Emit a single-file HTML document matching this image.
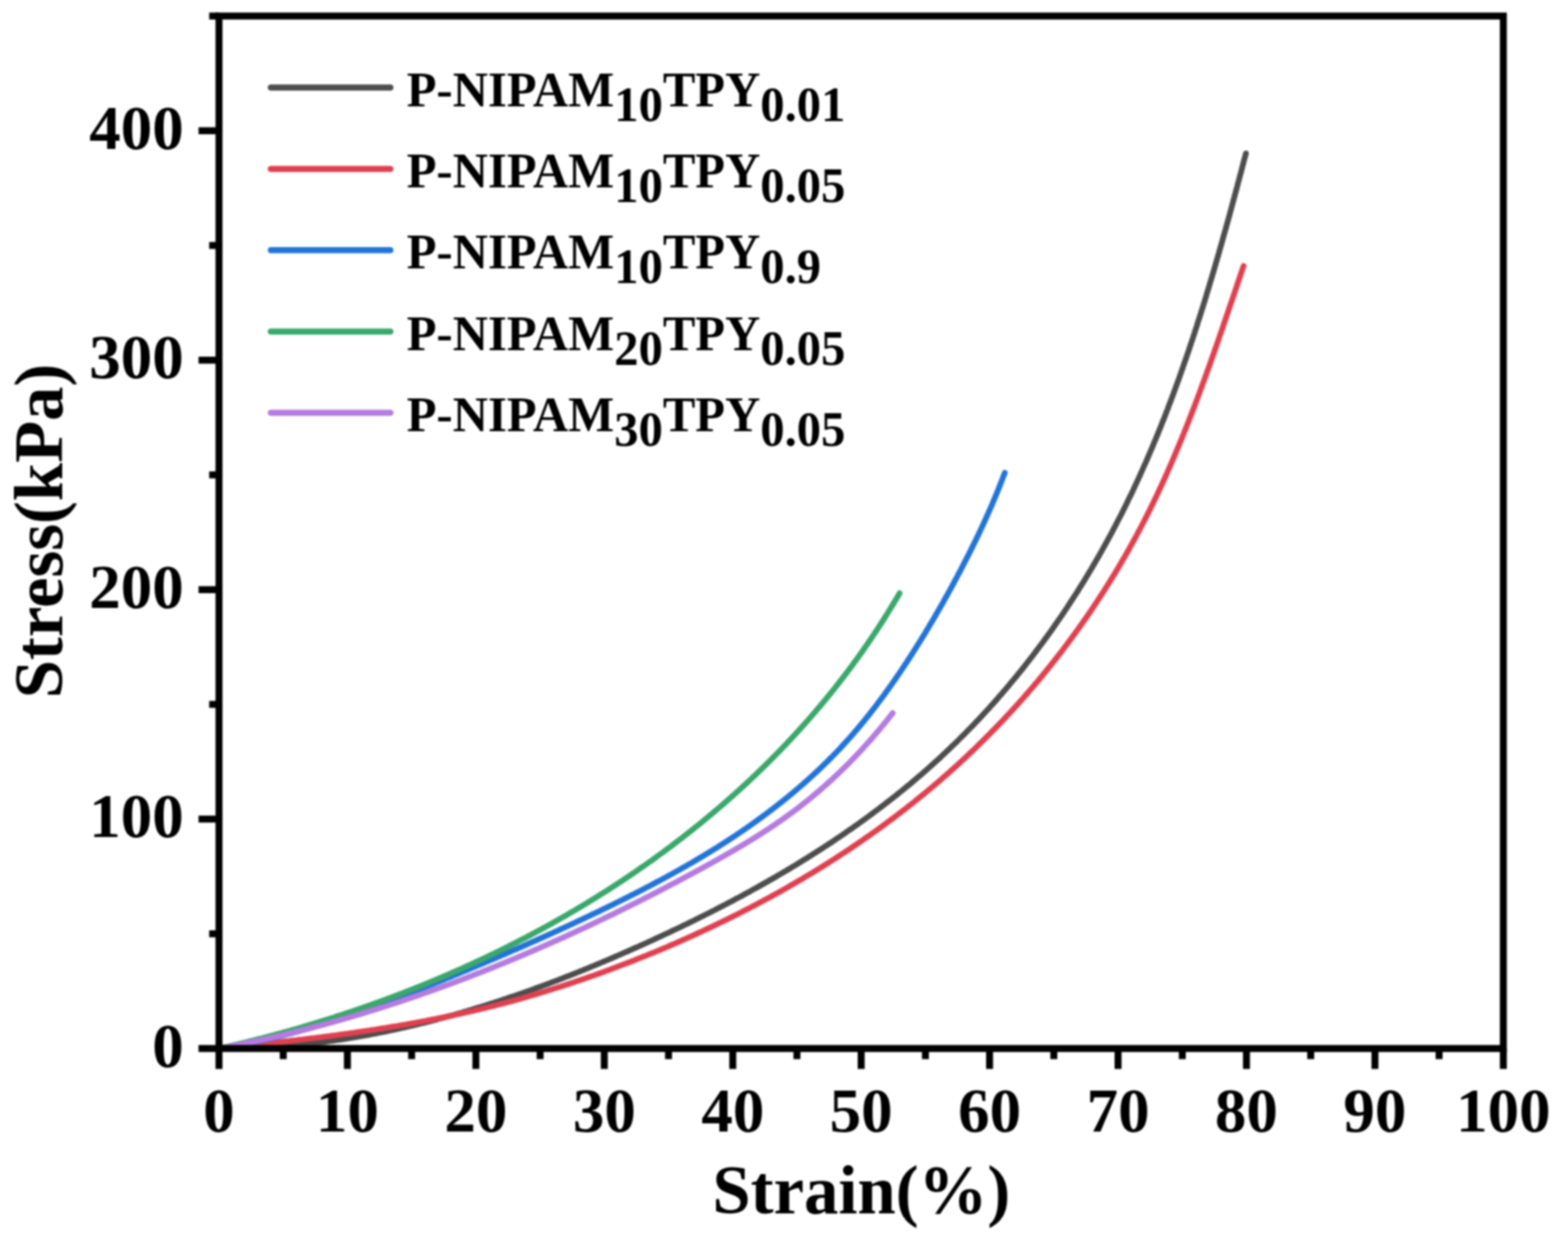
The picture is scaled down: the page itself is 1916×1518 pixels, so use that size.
<!DOCTYPE html>
<html><head><meta charset="utf-8"><style>
html,body{margin:0;padding:0;background:#fff;}
body{width:1916px;height:1518px;overflow:hidden;}
svg{display:block;filter:blur(1.2px);}
text{font-family:"Liberation Serif","Times New Roman",serif;font-weight:bold;fill:#000;}
</style></head><body>
<svg width="1916" height="1518" viewBox="0 0 1916 1518">
<rect width="1916" height="1518" fill="#fff"/>
<g fill="none" stroke-width="7" stroke-linecap="round" stroke-linejoin="round">
<path d="M267.6,1281.5 L270.7,1281.5 L273.7,1281.5 L276.8,1281.5 L279.8,1281.5 L282.9,1281.5 L285.9,1281.4 L289.0,1281.4 L292.0,1281.3 L295.1,1281.3 L298.1,1281.2 L301.2,1281.1 L304.2,1281.0 L307.2,1280.9 L310.3,1280.8 L313.3,1280.6 L316.3,1280.5 L319.4,1280.4 L322.4,1280.2 L325.4,1280.0 L328.5,1279.9 L331.5,1279.7 L334.5,1279.5 L337.5,1279.3 L340.5,1279.1 L343.5,1278.8 L346.6,1278.6 L349.6,1278.4 L352.6,1278.1 L355.6,1277.8 L358.6,1277.6 L361.6,1277.3 L364.6,1277.0 L367.6,1276.7 L370.6,1276.4 L373.6,1276.1 L376.6,1275.7 L379.6,1275.4 L382.6,1275.1 L385.6,1274.7 L388.6,1274.3 L391.5,1274.0 L394.5,1273.6 L397.5,1273.2 L400.5,1272.8 L403.5,1272.4 L406.4,1272.0 L409.4,1271.5 L412.4,1271.1 L415.4,1270.7 L418.3,1270.2 L421.3,1269.8 L424.3,1269.3 L427.2,1268.8 L430.2,1268.3 L433.2,1267.8 L436.1,1267.3 L439.1,1266.8 L442.0,1266.3 L445.0,1265.8 L447.9,1265.2 L450.9,1264.7 L453.8,1264.1 L456.8,1263.6 L459.7,1263.0 L462.7,1262.4 L465.6,1261.8 L468.6,1261.3 L471.5,1260.7 L474.4,1260.0 L477.4,1259.4 L480.3,1258.8 L483.2,1258.2 L486.2,1257.5 L489.1,1256.9 L492.0,1256.2 L494.9,1255.6 L497.9,1254.9 L500.8,1254.2 L503.7,1253.5 L506.6,1252.8 L509.5,1252.1 L512.5,1251.4 L515.4,1250.7 L518.3,1250.0 L521.2,1249.3 L524.1,1248.5 L527.0,1247.8 L529.9,1247.0 L532.8,1246.3 L535.7,1245.5 L538.6,1244.7 L541.5,1244.0 L544.4,1243.2 L547.3,1242.4 L550.2,1241.6 L553.1,1240.8 L556.0,1240.0 L558.9,1239.1 L561.8,1238.3 L564.7,1237.5 L567.5,1236.6 L570.4,1235.8 L573.3,1234.9 L576.2,1234.1 L579.1,1233.2 L581.9,1232.3 L584.8,1231.4 L587.7,1230.6 L590.6,1229.7 L593.4,1228.8 L596.3,1227.9 L599.2,1226.9 L602.0,1226.0 L604.9,1225.1 L607.8,1224.2 L610.6,1223.2 L613.5,1222.3 L616.3,1221.3 L619.2,1220.4 L622.0,1219.4 L624.9,1218.4 L627.7,1217.5 L630.6,1216.5 L633.4,1215.5 L636.3,1214.5 L639.1,1213.5 L642.0,1212.5 L644.8,1211.5 L647.7,1210.5 L650.5,1209.5 L653.3,1208.4 L656.2,1207.4 L659.0,1206.4 L661.8,1205.3 L664.7,1204.3 L667.5,1203.2 L670.3,1202.2 L673.2,1201.1 L676.0,1200.0 L678.8,1199.0 L681.6,1197.9 L684.5,1196.8 L687.3,1195.7 L690.1,1194.6 L692.9,1193.5 L695.7,1192.4 L698.5,1191.3 L701.4,1190.2 L704.2,1189.1 L707.0,1187.9 L709.8,1186.8 L712.6,1185.7 L715.4,1184.5 L718.2,1183.4 L721.0,1182.2 L723.8,1181.1 L726.6,1179.9 L729.4,1178.8 L732.2,1177.6 L735.0,1176.4 L737.8,1175.2 L740.6,1174.1 L743.4,1172.9 L746.2,1171.7 L749.0,1170.5 L751.8,1169.3 L754.5,1168.1 L757.3,1166.9 L760.1,1165.7 L762.9,1164.4 L765.7,1163.2 L768.4,1162.0 L771.2,1160.8 L774.0,1159.5 L776.8,1158.3 L779.6,1157.1 L782.3,1155.8 L785.1,1154.6 L787.9,1153.3 L790.6,1152.1 L793.4,1150.8 L796.2,1149.6 L798.9,1148.3 L801.7,1147.0 L804.5,1145.7 L807.2,1144.5 L810.0,1143.2 L812.7,1141.9 L815.5,1140.6 L818.2,1139.3 L821.0,1138.0 L823.7,1136.7 L826.5,1135.4 L829.2,1134.1 L832.0,1132.8 L834.7,1131.4 L837.5,1130.1 L840.2,1128.8 L842.9,1127.5 L845.7,1126.1 L848.4,1124.8 L851.1,1123.4 L853.8,1122.1 L856.6,1120.7 L859.3,1119.4 L862.0,1118.0 L864.7,1116.6 L867.4,1115.3 L870.2,1113.9 L872.9,1112.5 L875.6,1111.1 L878.3,1109.7 L881.0,1108.3 L883.7,1106.9 L886.4,1105.5 L889.1,1104.1 L891.8,1102.7 L894.5,1101.3 L897.1,1099.9 L899.8,1098.4 L902.5,1097.0 L905.2,1095.6 L907.9,1094.1 L910.5,1092.7 L913.2,1091.2 L915.9,1089.8 L918.5,1088.3 L921.2,1086.8 L923.8,1085.4 L926.5,1083.9 L929.1,1082.4 L931.8,1080.9 L934.4,1079.4 L937.1,1077.9 L939.7,1076.4 L942.3,1074.9 L945.0,1073.4 L947.6,1071.9 L950.2,1070.3 L952.8,1068.8 L955.4,1067.3 L958.0,1065.7 L960.7,1064.2 L963.3,1062.6 L965.9,1061.1 L968.4,1059.5 L971.0,1058.0 L973.6,1056.4 L976.2,1054.8 L978.8,1053.2 L981.4,1051.6 L983.9,1050.0 L986.5,1048.4 L989.1,1046.8 L991.6,1045.2 L994.2,1043.6 L996.7,1042.0 L999.3,1040.3 L1001.8,1038.7 L1004.4,1037.1 L1006.9,1035.4 L1009.4,1033.8 L1011.9,1032.1 L1014.5,1030.5 L1017.0,1028.8 L1019.5,1027.1 L1022.0,1025.4 L1024.5,1023.7 L1027.0,1022.1 L1029.5,1020.4 L1032.0,1018.6 L1034.5,1016.9 L1036.9,1015.2 L1039.4,1013.5 L1041.9,1011.8 L1044.3,1010.0 L1046.8,1008.3 L1049.3,1006.5 L1051.7,1004.8 L1054.1,1003.0 L1056.6,1001.3 L1059.0,999.5 L1061.4,997.7 L1063.9,995.9 L1066.3,994.1 L1068.7,992.3 L1071.1,990.5 L1073.5,988.7 L1075.9,986.9 L1078.3,985.1 L1080.7,983.3 L1083.0,981.4 L1085.4,979.6 L1087.8,977.7 L1090.2,975.9 L1092.5,974.0 L1094.9,972.2 L1097.2,970.3 L1099.5,968.4 L1101.9,966.5 L1104.2,964.6 L1106.5,962.7 L1108.8,960.8 L1111.2,958.9 L1113.5,957.0 L1115.8,955.0 L1118.0,953.1 L1120.3,951.2 L1122.6,949.2 L1124.9,947.3 L1127.2,945.3 L1129.4,943.3 L1131.7,941.3 L1133.9,939.4 L1136.2,937.4 L1138.4,935.4 L1140.6,933.4 L1142.8,931.3 L1145.1,929.3 L1147.3,927.3 L1149.5,925.3 L1151.7,923.2 L1153.9,921.2 L1156.0,919.1 L1158.2,917.1 L1160.4,915.0 L1162.5,912.9 L1164.7,910.8 L1166.9,908.7 L1169.0,906.7 L1171.1,904.6 L1173.3,902.4 L1175.4,900.3 L1177.5,898.2 L1179.6,896.1 L1181.7,893.9 L1183.8,891.8 L1185.9,889.6 L1188.0,887.5 L1190.1,885.3 L1192.1,883.2 L1194.2,881.0 L1196.3,878.8 L1198.3,876.6 L1200.4,874.4 L1202.4,872.2 L1204.4,870.0 L1206.4,867.8 L1208.5,865.6 L1210.5,863.3 L1212.5,861.1 L1214.5,858.9 L1216.5,856.6 L1218.5,854.4 L1220.4,852.1 L1222.4,849.8 L1224.4,847.6 L1226.3,845.3 L1228.3,843.0 L1230.2,840.7 L1232.2,838.4 L1234.1,836.1 L1236.0,833.8 L1237.9,831.5 L1239.8,829.2 L1241.8,826.9 L1243.7,824.5 L1245.5,822.2 L1247.4,819.9 L1249.3,817.5 L1251.2,815.2 L1253.0,812.8 L1254.9,810.4 L1256.7,808.1 L1258.6,805.7 L1260.4,803.3 L1262.3,800.9 L1264.1,798.5 L1265.9,796.1 L1267.7,793.7 L1269.5,791.3 L1271.3,788.9 L1273.1,786.5 L1274.9,784.1 L1276.7,781.6 L1278.4,779.2 L1280.2,776.8 L1282.0,774.3 L1283.7,771.9 L1285.5,769.4 L1287.2,767.0 L1288.9,764.5 L1290.6,762.0 L1292.4,759.5 L1294.1,757.1 L1295.8,754.6 L1297.5,752.1 L1299.2,749.6 L1300.8,747.1 L1302.5,744.6 L1304.2,742.1 L1305.8,739.5 L1307.5,737.0 L1309.1,734.5 L1310.8,732.0 L1312.4,729.4 L1314.1,726.9 L1315.7,724.4 L1317.3,721.8 L1318.9,719.2 L1320.5,716.7 L1322.1,714.1 L1323.7,711.6 L1325.3,709.0 L1326.8,706.4 L1328.4,703.8 L1330.0,701.2 L1331.5,698.6 L1333.1,696.1 L1334.6,693.5 L1336.1,690.8 L1337.7,688.2 L1339.2,685.6 L1340.7,683.0 L1342.2,680.4 L1343.7,677.8 L1345.2,675.1 L1346.7,672.5 L1348.1,669.9 L1349.6,667.2 L1351.1,664.6 L1352.5,661.9 L1354.0,659.3 L1355.4,656.6 L1356.9,654.0 L1358.3,651.3 L1359.7,648.6 L1361.1,645.9 L1362.5,643.3 L1363.9,640.6 L1365.3,637.9 L1366.7,635.2 L1368.1,632.5 L1369.5,629.8 L1370.9,627.1 L1372.2,624.4 L1373.6,621.7 L1374.9,619.0 L1376.3,616.3 L1377.6,613.6 L1378.9,610.8 L1380.2,608.1 L1381.6,605.4 L1382.9,602.7 L1384.2,599.9 L1385.5,597.2 L1386.7,594.4 L1388.0,591.7 L1389.3,588.9 L1390.6,586.2 L1391.8,583.4 L1393.1,580.7 L1394.3,577.9 L1395.6,575.1 L1396.8,572.4 L1398.0,569.6 L1399.3,566.8 L1400.5,564.1 L1401.7,561.3 L1402.9,558.5 L1404.1,555.7 L1405.3,552.9 L1406.5,550.1 L1407.7,547.3 L1408.9,544.5 L1410.0,541.7 L1411.2,538.9 L1412.4,536.1 L1413.5,533.3 L1414.7,530.5 L1415.8,527.7 L1416.9,524.9 L1418.1,522.1 L1419.2,519.3 L1420.3,516.4 L1421.4,513.6 L1422.6,510.8 L1423.7,508.0 L1424.8,505.1 L1425.9,502.3 L1427.0,499.5 L1428.0,496.6 L1429.1,493.8 L1430.2,490.9 L1431.3,488.1 L1432.3,485.3 L1433.4,482.4 L1434.4,479.6 L1435.5,476.7 L1436.5,473.9 L1437.6,471.0 L1438.6,468.1 L1439.7,465.3 L1440.7,462.4 L1441.7,459.6 L1442.7,456.7 L1443.7,453.8 L1444.7,451.0 L1445.7,448.1 L1446.7,445.2 L1447.7,442.4 L1448.7,439.5 L1449.7,436.6 L1450.7,433.7 L1451.7,430.8 L1452.7,428.0 L1453.6,425.1 L1454.6,422.2 L1455.5,419.3 L1456.5,416.4 L1457.5,413.6 L1458.4,410.7 L1459.4,407.8 L1460.3,404.9 L1461.2,402.0 L1462.2,399.1 L1463.1,396.2 L1464.0,393.3 L1464.9,390.4 L1465.9,387.5 L1466.8,384.6 L1467.7,381.7 L1468.6,378.8 L1469.5,376.0 L1470.4,373.1 L1471.3,370.2 L1472.2,367.3 L1473.1,364.4 L1474.0,361.5 L1474.8,358.5 L1475.7,355.6 L1476.6,352.7 L1477.5,349.8 L1478.3,346.9 L1479.2,344.0 L1480.1,341.1 L1480.9,338.2 L1481.8,335.3 L1482.7,332.4 L1483.5,329.5 L1484.4,326.6 L1485.2,323.7 L1486.0,320.8 L1486.9,317.9 L1487.7,315.0 L1488.6,312.1 L1489.4,309.2 L1490.2,306.3 L1491.0,303.3 L1491.9,300.4 L1492.7,297.5 L1493.5,294.6 L1494.3,291.7 L1495.1,288.8 L1496.0,285.9 L1496.8,283.0 L1497.6,280.1 L1498.4,277.2 L1499.2,274.3 L1500.0,271.4 L1500.8,268.5 L1501.6,265.6 L1502.4,262.7 L1503.2,259.8 L1504.0,256.9 L1504.7,254.0 L1505.5,251.1 L1506.3,248.2 L1507.1,245.3 L1507.9,242.4 L1508.7,239.5 L1509.4,236.6 L1510.2,233.7 L1511.0,230.8 L1511.8,227.9 L1512.5,225.0 L1513.3,222.1 L1514.1,219.2 L1514.8,216.3 L1515.6,213.5 L1516.4,210.6 L1517.1,207.7 L1517.9,204.8 L1518.6,201.9 L1519.4,199.0 L1520.1,196.1 L1520.9,193.3 L1521.7,190.4 L1522.4,187.5" stroke="#4d4d4d" /><path d="M267.6,1281.5 L270.4,1281.2 L273.3,1280.9 L276.1,1280.6 L278.9,1280.3 L281.7,1280.1 L284.6,1279.8 L287.4,1279.5 L290.2,1279.2 L293.1,1278.9 L295.9,1278.6 L298.7,1278.3 L301.6,1278.0 L304.4,1277.7 L307.2,1277.4 L310.1,1277.1 L312.9,1276.8 L315.7,1276.5 L318.5,1276.2 L321.4,1275.9 L324.2,1275.6 L327.0,1275.3 L329.9,1275.0 L332.7,1274.7 L335.5,1274.4 L338.3,1274.1 L341.2,1273.7 L344.0,1273.4 L346.8,1273.1 L349.6,1272.8 L352.5,1272.5 L355.3,1272.1 L358.1,1271.8 L361.0,1271.5 L363.8,1271.1 L366.6,1270.8 L369.4,1270.5 L372.2,1270.1 L375.1,1269.8 L377.9,1269.4 L380.7,1269.1 L383.5,1268.7 L386.4,1268.4 L389.2,1268.0 L392.0,1267.7 L394.8,1267.3 L397.6,1266.9 L400.4,1266.6 L403.3,1266.2 L406.1,1265.8 L408.9,1265.5 L411.7,1265.1 L414.5,1264.7 L417.3,1264.3 L420.2,1263.9 L423.0,1263.5 L425.8,1263.2 L428.6,1262.8 L431.4,1262.4 L434.2,1262.0 L437.0,1261.5 L439.8,1261.1 L442.6,1260.7 L445.4,1260.3 L448.2,1259.9 L451.0,1259.5 L453.8,1259.0 L456.6,1258.6 L459.4,1258.2 L462.2,1257.7 L465.0,1257.3 L467.8,1256.8 L470.6,1256.4 L473.4,1255.9 L476.2,1255.5 L479.0,1255.0 L481.8,1254.5 L484.6,1254.1 L487.4,1253.6 L490.2,1253.1 L493.0,1252.6 L495.8,1252.2 L498.6,1251.7 L501.3,1251.2 L504.1,1250.7 L506.9,1250.2 L509.7,1249.6 L512.5,1249.1 L515.3,1248.6 L518.0,1248.1 L520.8,1247.6 L523.6,1247.0 L526.4,1246.5 L529.1,1245.9 L531.9,1245.4 L534.7,1244.8 L537.4,1244.3 L540.2,1243.7 L543.0,1243.2 L545.7,1242.6 L548.5,1242.0 L551.3,1241.4 L554.0,1240.8 L556.8,1240.2 L559.5,1239.6 L562.3,1239.0 L565.1,1238.4 L567.8,1237.8 L570.6,1237.2 L573.3,1236.6 L576.1,1235.9 L578.8,1235.3 L581.5,1234.6 L584.3,1234.0 L587.0,1233.3 L589.8,1232.7 L592.5,1232.0 L595.2,1231.3 L598.0,1230.7 L600.7,1230.0 L603.5,1229.3 L606.2,1228.6 L608.9,1227.9 L611.6,1227.2 L614.4,1226.5 L617.1,1225.8 L619.8,1225.0 L622.5,1224.3 L625.3,1223.6 L628.0,1222.8 L630.7,1222.1 L633.4,1221.3 L636.1,1220.6 L638.8,1219.8 L641.5,1219.0 L644.2,1218.3 L647.0,1217.5 L649.7,1216.7 L652.4,1215.9 L655.1,1215.1 L657.8,1214.3 L660.5,1213.5 L663.2,1212.7 L665.9,1211.9 L668.6,1211.0 L671.2,1210.2 L673.9,1209.4 L676.6,1208.5 L679.3,1207.7 L682.0,1206.8 L684.7,1206.0 L687.4,1205.1 L690.1,1204.2 L692.7,1203.4 L695.4,1202.5 L698.1,1201.6 L700.8,1200.7 L703.4,1199.8 L706.1,1198.9 L708.8,1198.0 L711.5,1197.1 L714.1,1196.2 L716.8,1195.3 L719.5,1194.3 L722.1,1193.4 L724.8,1192.5 L727.5,1191.5 L730.1,1190.6 L732.8,1189.6 L735.4,1188.7 L738.1,1187.7 L740.7,1186.7 L743.4,1185.8 L746.0,1184.8 L748.7,1183.8 L751.3,1182.8 L754.0,1181.8 L756.6,1180.8 L759.3,1179.8 L761.9,1178.8 L764.6,1177.8 L767.2,1176.8 L769.9,1175.8 L772.5,1174.7 L775.1,1173.7 L777.8,1172.6 L780.4,1171.6 L783.0,1170.6 L785.7,1169.5 L788.3,1168.4 L790.9,1167.4 L793.5,1166.3 L796.2,1165.2 L798.8,1164.2 L801.4,1163.1 L804.0,1162.0 L806.7,1160.9 L809.3,1159.8 L811.9,1158.7 L814.5,1157.6 L817.1,1156.5 L819.7,1155.3 L822.3,1154.2 L824.9,1153.1 L827.5,1152.0 L830.1,1150.8 L832.7,1149.7 L835.3,1148.5 L837.9,1147.4 L840.5,1146.2 L843.1,1145.0 L845.7,1143.9 L848.3,1142.7 L850.9,1141.5 L853.5,1140.3 L856.1,1139.1 L858.7,1137.9 L861.2,1136.7 L863.8,1135.5 L866.4,1134.3 L869.0,1133.1 L871.5,1131.9 L874.1,1130.7 L876.7,1129.4 L879.2,1128.2 L881.8,1126.9 L884.4,1125.7 L886.9,1124.4 L889.5,1123.2 L892.0,1121.9 L894.6,1120.7 L897.1,1119.4 L899.7,1118.1 L902.2,1116.8 L904.7,1115.5 L907.3,1114.2 L909.8,1112.9 L912.4,1111.6 L914.9,1110.3 L917.4,1109.0 L919.9,1107.7 L922.5,1106.4 L925.0,1105.0 L927.5,1103.7 L930.0,1102.4 L932.5,1101.0 L935.0,1099.7 L937.5,1098.3 L940.0,1097.0 L942.5,1095.6 L945.0,1094.2 L947.5,1092.8 L950.0,1091.5 L952.5,1090.1 L955.0,1088.7 L957.5,1087.3 L959.9,1085.9 L962.4,1084.5 L964.9,1083.1 L967.4,1081.6 L969.8,1080.2 L972.3,1078.8 L974.7,1077.3 L977.2,1075.9 L979.7,1074.5 L982.1,1073.0 L984.5,1071.6 L987.0,1070.1 L989.4,1068.6 L991.9,1067.2 L994.3,1065.7 L996.7,1064.2 L999.2,1062.7 L1001.6,1061.2 L1004.0,1059.7 L1006.4,1058.2 L1008.8,1056.7 L1011.2,1055.2 L1013.6,1053.7 L1016.0,1052.1 L1018.4,1050.6 L1020.8,1049.1 L1023.2,1047.5 L1025.6,1046.0 L1028.0,1044.4 L1030.4,1042.9 L1032.7,1041.3 L1035.1,1039.7 L1037.5,1038.2 L1039.8,1036.6 L1042.2,1035.0 L1044.5,1033.4 L1046.9,1031.8 L1049.2,1030.2 L1051.6,1028.6 L1053.9,1027.0 L1056.2,1025.4 L1058.6,1023.7 L1060.9,1022.1 L1063.2,1020.5 L1065.5,1018.8 L1067.9,1017.2 L1070.2,1015.5 L1072.5,1013.9 L1074.8,1012.2 L1077.1,1010.6 L1079.4,1008.9 L1081.6,1007.2 L1083.9,1005.5 L1086.2,1003.8 L1088.5,1002.1 L1090.8,1000.4 L1093.0,998.7 L1095.3,997.0 L1097.5,995.3 L1099.8,993.6 L1102.0,991.8 L1104.3,990.1 L1106.5,988.4 L1108.7,986.6 L1111.0,984.9 L1113.2,983.1 L1115.4,981.4 L1117.6,979.6 L1119.8,977.8 L1122.0,976.0 L1124.2,974.3 L1126.4,972.5 L1128.6,970.7 L1130.8,968.9 L1133.0,967.1 L1135.2,965.2 L1137.3,963.4 L1139.5,961.6 L1141.7,959.8 L1143.8,957.9 L1146.0,956.1 L1148.1,954.3 L1150.3,952.4 L1152.4,950.5 L1154.5,948.7 L1156.6,946.8 L1158.8,944.9 L1160.9,943.1 L1163.0,941.2 L1165.1,939.3 L1167.2,937.4 L1169.3,935.5 L1171.4,933.6 L1173.5,931.7 L1175.5,929.8 L1177.6,927.8 L1179.7,925.9 L1181.7,924.0 L1183.8,922.0 L1185.8,920.1 L1187.9,918.1 L1189.9,916.2 L1192.0,914.2 L1194.0,912.2 L1196.0,910.3 L1198.0,908.3 L1200.1,906.3 L1202.1,904.3 L1204.1,902.3 L1206.1,900.3 L1208.1,898.3 L1210.0,896.3 L1212.0,894.3 L1214.0,892.3 L1216.0,890.3 L1217.9,888.2 L1219.9,886.2 L1221.8,884.2 L1223.8,882.1 L1225.7,880.1 L1227.7,878.0 L1229.6,876.0 L1231.5,873.9 L1233.5,871.8 L1235.4,869.7 L1237.3,867.7 L1239.2,865.6 L1241.1,863.5 L1243.0,861.4 L1244.9,859.3 L1246.7,857.2 L1248.6,855.1 L1250.5,853.0 L1252.4,850.8 L1254.2,848.7 L1256.1,846.6 L1257.9,844.4 L1259.8,842.3 L1261.6,840.2 L1263.4,838.0 L1265.2,835.9 L1267.1,833.7 L1268.9,831.5 L1270.7,829.4 L1272.5,827.2 L1274.3,825.0 L1276.1,822.8 L1277.9,820.6 L1279.6,818.5 L1281.4,816.3 L1283.2,814.1 L1284.9,811.8 L1286.7,809.6 L1288.4,807.4 L1290.2,805.2 L1291.9,803.0 L1293.7,800.7 L1295.4,798.5 L1297.1,796.3 L1298.8,794.0 L1300.5,791.8 L1302.2,789.5 L1303.9,787.3 L1305.6,785.0 L1307.3,782.7 L1309.0,780.5 L1310.6,778.2 L1312.3,775.9 L1314.0,773.6 L1315.6,771.3 L1317.3,769.0 L1318.9,766.7 L1320.5,764.4 L1322.2,762.1 L1323.8,759.8 L1325.4,757.5 L1327.0,755.2 L1328.6,752.9 L1330.2,750.5 L1331.8,748.2 L1333.4,745.9 L1335.0,743.5 L1336.6,741.2 L1338.1,738.8 L1339.7,736.5 L1341.2,734.1 L1342.8,731.8 L1344.3,729.4 L1345.9,727.0 L1347.4,724.6 L1348.9,722.3 L1350.4,719.9 L1351.9,717.5 L1353.5,715.1 L1355.0,712.7 L1356.4,710.3 L1357.9,707.9 L1359.4,705.5 L1360.9,703.1 L1362.4,700.7 L1363.8,698.2 L1365.3,695.8 L1366.7,693.4 L1368.2,691.0 L1369.6,688.5 L1371.0,686.1 L1372.4,683.6 L1373.9,681.2 L1375.3,678.7 L1376.7,676.3 L1378.1,673.8 L1379.5,671.4 L1380.8,668.9 L1382.2,666.4 L1383.6,663.9 L1384.9,661.5 L1386.3,659.0 L1387.7,656.5 L1389.0,654.0 L1390.3,651.5 L1391.7,649.0 L1393.0,646.5 L1394.3,644.0 L1395.6,641.5 L1396.9,639.0 L1398.2,636.5 L1399.5,633.9 L1400.8,631.4 L1402.1,628.9 L1403.3,626.3 L1404.6,623.8 L1405.9,621.3 L1407.1,618.7 L1408.4,616.2 L1409.6,613.6 L1410.8,611.1 L1412.0,608.5 L1413.3,606.0 L1414.5,603.4 L1415.7,600.8 L1416.9,598.3 L1418.1,595.7 L1419.3,593.1 L1420.5,590.5 L1421.6,588.0 L1422.8,585.4 L1424.0,582.8 L1425.1,580.2 L1426.3,577.6 L1427.4,575.0 L1428.6,572.4 L1429.7,569.8 L1430.9,567.2 L1432.0,564.6 L1433.1,562.0 L1434.2,559.4 L1435.3,556.8 L1436.4,554.2 L1437.5,551.5 L1438.6,548.9 L1439.7,546.3 L1440.8,543.7 L1441.9,541.0 L1443.0,538.4 L1444.1,535.8 L1445.1,533.1 L1446.2,530.5 L1447.3,527.9 L1448.3,525.2 L1449.4,522.6 L1450.4,520.0 L1451.5,517.3 L1452.5,514.7 L1453.5,512.0 L1454.6,509.4 L1455.6,506.7 L1456.6,504.1 L1457.7,501.4 L1458.7,498.7 L1459.7,496.1 L1460.7,493.4 L1461.7,490.8 L1462.7,488.1 L1463.7,485.4 L1464.7,482.8 L1465.7,480.1 L1466.7,477.4 L1467.7,474.8 L1468.6,472.1 L1469.6,469.4 L1470.6,466.8 L1471.6,464.1 L1472.5,461.4 L1473.5,458.8 L1474.5,456.1 L1475.4,453.4 L1476.4,450.7 L1477.4,448.1 L1478.3,445.4 L1479.3,442.7 L1480.2,440.0 L1481.2,437.3 L1482.1,434.7 L1483.1,432.0 L1484.0,429.3 L1484.9,426.6 L1485.9,423.9 L1486.8,421.3 L1487.7,418.6 L1488.7,415.9 L1489.6,413.2 L1490.5,410.5 L1491.4,407.9 L1492.4,405.2 L1493.3,402.5 L1494.2,399.8 L1495.1,397.1 L1496.0,394.5 L1497.0,391.8 L1497.9,389.1 L1498.8,386.4 L1499.7,383.7 L1500.6,381.1 L1501.5,378.4 L1502.4,375.7 L1503.3,373.0 L1504.2,370.4 L1505.2,367.7 L1506.1,365.0 L1507.0,362.3 L1507.9,359.7 L1508.8,357.0 L1509.7,354.3 L1510.6,351.6 L1511.5,349.0 L1512.4,346.3 L1513.3,343.6 L1514.2,341.0 L1515.1,338.3 L1516.0,335.6 L1516.9,333.0 L1517.8,330.3 L1518.7,327.7 L1519.6,325.0" stroke="#e0404f" /><path d="M267.6,1281.5 L269.7,1281.2 L271.7,1280.9 L273.8,1280.5 L275.9,1280.2 L277.9,1279.9 L280.0,1279.5 L282.1,1279.2 L284.1,1278.8 L286.2,1278.5 L288.3,1278.1 L290.3,1277.7 L292.4,1277.3 L294.4,1276.9 L296.5,1276.6 L298.5,1276.2 L300.6,1275.8 L302.6,1275.4 L304.7,1274.9 L306.7,1274.5 L308.7,1274.1 L310.8,1273.7 L312.8,1273.2 L314.9,1272.8 L316.9,1272.4 L318.9,1271.9 L321.0,1271.5 L323.0,1271.0 L325.0,1270.5 L327.1,1270.1 L329.1,1269.6 L331.1,1269.1 L333.2,1268.6 L335.2,1268.1 L337.2,1267.6 L339.2,1267.2 L341.2,1266.6 L343.3,1266.1 L345.3,1265.6 L347.3,1265.1 L349.3,1264.6 L351.3,1264.1 L353.3,1263.5 L355.4,1263.0 L357.4,1262.5 L359.4,1261.9 L361.4,1261.4 L363.4,1260.8 L365.4,1260.3 L367.4,1259.7 L369.4,1259.1 L371.4,1258.6 L373.4,1258.0 L375.4,1257.4 L377.4,1256.8 L379.4,1256.3 L381.4,1255.7 L383.4,1255.1 L385.4,1254.5 L387.4,1253.9 L389.4,1253.3 L391.4,1252.7 L393.4,1252.0 L395.3,1251.4 L397.3,1250.8 L399.3,1250.2 L401.3,1249.6 L403.3,1248.9 L405.3,1248.3 L407.3,1247.7 L409.2,1247.0 L411.2,1246.4 L413.2,1245.7 L415.2,1245.1 L417.1,1244.4 L419.1,1243.8 L421.1,1243.1 L423.1,1242.4 L425.0,1241.8 L427.0,1241.1 L429.0,1240.4 L431.0,1239.7 L432.9,1239.1 L434.9,1238.4 L436.9,1237.7 L438.8,1237.0 L440.8,1236.3 L442.8,1235.6 L444.7,1234.9 L446.7,1234.2 L448.6,1233.5 L450.6,1232.8 L452.6,1232.1 L454.5,1231.4 L456.5,1230.7 L458.4,1230.0 L460.4,1229.3 L462.4,1228.5 L464.3,1227.8 L466.3,1227.1 L468.2,1226.4 L470.2,1225.6 L472.1,1224.9 L474.1,1224.2 L476.0,1223.4 L478.0,1222.7 L479.9,1221.9 L481.9,1221.2 L483.8,1220.5 L485.8,1219.7 L487.7,1219.0 L489.7,1218.2 L491.6,1217.5 L493.6,1216.7 L495.5,1216.0 L497.4,1215.2 L499.4,1214.4 L501.3,1213.7 L503.3,1212.9 L505.2,1212.1 L507.1,1211.4 L509.1,1210.6 L511.0,1209.8 L513.0,1209.1 L514.9,1208.3 L516.8,1207.5 L518.8,1206.8 L520.7,1206.0 L522.6,1205.2 L524.6,1204.4 L526.5,1203.6 L528.4,1202.9 L530.4,1202.1 L532.3,1201.3 L534.2,1200.5 L536.2,1199.7 L538.1,1198.9 L540.0,1198.1 L542.0,1197.4 L543.9,1196.6 L545.8,1195.8 L547.8,1195.0 L549.7,1194.2 L551.6,1193.4 L553.5,1192.6 L555.5,1191.8 L557.4,1191.0 L559.3,1190.2 L561.2,1189.4 L563.2,1188.6 L565.1,1187.8 L567.0,1187.0 L568.9,1186.2 L570.9,1185.4 L572.8,1184.6 L574.7,1183.8 L576.6,1183.0 L578.6,1182.2 L580.5,1181.4 L582.4,1180.6 L584.3,1179.8 L586.2,1179.0 L588.2,1178.2 L590.1,1177.4 L592.0,1176.6 L593.9,1175.8 L595.8,1175.0 L597.7,1174.1 L599.7,1173.3 L601.6,1172.5 L603.5,1171.7 L605.4,1170.9 L607.3,1170.1 L609.2,1169.3 L611.2,1168.4 L613.1,1167.6 L615.0,1166.8 L616.9,1166.0 L618.8,1165.2 L620.7,1164.3 L622.6,1163.5 L624.5,1162.7 L626.4,1161.8 L628.4,1161.0 L630.3,1160.2 L632.2,1159.4 L634.1,1158.5 L636.0,1157.7 L637.9,1156.9 L639.8,1156.0 L641.7,1155.2 L643.6,1154.4 L645.5,1153.5 L647.4,1152.7 L649.3,1151.8 L651.2,1151.0 L653.1,1150.2 L655.0,1149.3 L656.9,1148.5 L658.8,1147.6 L660.7,1146.8 L662.6,1145.9 L664.5,1145.1 L666.4,1144.2 L668.3,1143.4 L670.2,1142.5 L672.1,1141.7 L674.0,1140.8 L675.9,1139.9 L677.8,1139.1 L679.7,1138.2 L681.6,1137.4 L683.5,1136.5 L685.3,1135.6 L687.2,1134.8 L689.1,1133.9 L691.0,1133.0 L692.9,1132.2 L694.8,1131.3 L696.7,1130.4 L698.6,1129.5 L700.5,1128.7 L702.3,1127.8 L704.2,1126.9 L706.1,1126.0 L708.0,1125.1 L709.9,1124.3 L711.8,1123.4 L713.6,1122.5 L715.5,1121.6 L717.4,1120.7 L719.3,1119.8 L721.2,1118.9 L723.0,1118.0 L724.9,1117.1 L726.8,1116.3 L728.7,1115.4 L730.5,1114.5 L732.4,1113.6 L734.3,1112.7 L736.2,1111.7 L738.0,1110.8 L739.9,1109.9 L741.8,1109.0 L743.6,1108.1 L745.5,1107.2 L747.4,1106.3 L749.2,1105.4 L751.1,1104.5 L753.0,1103.5 L754.8,1102.6 L756.7,1101.7 L758.6,1100.8 L760.4,1099.8 L762.3,1098.9 L764.2,1098.0 L766.0,1097.0 L767.9,1096.1 L769.7,1095.2 L771.6,1094.2 L773.4,1093.3 L775.3,1092.4 L777.2,1091.4 L779.0,1090.5 L780.9,1089.5 L782.7,1088.6 L784.6,1087.6 L786.4,1086.7 L788.2,1085.7 L790.1,1084.7 L791.9,1083.8 L793.8,1082.8 L795.6,1081.8 L797.5,1080.9 L799.3,1079.9 L801.1,1078.9 L803.0,1077.9 L804.8,1077.0 L806.6,1076.0 L808.5,1075.0 L810.3,1074.0 L812.1,1073.0 L814.0,1072.0 L815.8,1071.0 L817.6,1070.0 L819.4,1069.0 L821.3,1068.0 L823.1,1067.0 L824.9,1066.0 L826.7,1065.0 L828.5,1064.0 L830.3,1063.0 L832.1,1061.9 L833.9,1060.9 L835.8,1059.9 L837.6,1058.9 L839.4,1057.8 L841.2,1056.8 L843.0,1055.7 L844.8,1054.7 L846.6,1053.7 L848.4,1052.6 L850.2,1051.6 L851.9,1050.5 L853.7,1049.4 L855.5,1048.4 L857.3,1047.3 L859.1,1046.2 L860.9,1045.2 L862.6,1044.1 L864.4,1043.0 L866.2,1041.9 L868.0,1040.8 L869.7,1039.8 L871.5,1038.7 L873.3,1037.6 L875.0,1036.5 L876.8,1035.4 L878.6,1034.3 L880.3,1033.1 L882.1,1032.0 L883.8,1030.9 L885.6,1029.8 L887.3,1028.7 L889.1,1027.5 L890.8,1026.4 L892.5,1025.3 L894.3,1024.1 L896.0,1023.0 L897.8,1021.8 L899.5,1020.7 L901.2,1019.5 L902.9,1018.3 L904.7,1017.2 L906.4,1016.0 L908.1,1014.8 L909.8,1013.7 L911.5,1012.5 L913.2,1011.3 L914.9,1010.1 L916.7,1008.9 L918.4,1007.7 L920.1,1006.5 L921.7,1005.3 L923.4,1004.1 L925.1,1002.9 L926.8,1001.6 L928.5,1000.4 L930.2,999.2 L931.9,997.9 L933.5,996.7 L935.2,995.5 L936.9,994.2 L938.6,993.0 L940.2,991.7 L941.9,990.4 L943.5,989.2 L945.2,987.9 L946.8,986.6 L948.5,985.3 L950.1,984.1 L951.8,982.8 L953.4,981.5 L955.0,980.2 L956.7,978.9 L958.3,977.6 L959.9,976.3 L961.5,975.0 L963.2,973.6 L964.8,972.3 L966.4,971.0 L968.0,969.7 L969.6,968.3 L971.2,967.0 L972.8,965.6 L974.4,964.3 L975.9,962.9 L977.5,961.6 L979.1,960.2 L980.7,958.8 L982.2,957.5 L983.8,956.1 L985.4,954.7 L986.9,953.3 L988.5,951.9 L990.0,950.5 L991.5,949.1 L993.1,947.7 L994.6,946.3 L996.1,944.9 L997.7,943.5 L999.2,942.0 L1000.7,940.6 L1002.2,939.2 L1003.7,937.7 L1005.2,936.3 L1006.7,934.8 L1008.2,933.4 L1009.7,931.9 L1011.2,930.5 L1012.6,929.0 L1014.1,927.5 L1015.6,926.0 L1017.0,924.6 L1018.5,923.1 L1019.9,921.6 L1021.4,920.1 L1022.8,918.6 L1024.3,917.1 L1025.7,915.6 L1027.1,914.1 L1028.5,912.5 L1029.9,911.0 L1031.3,909.5 L1032.7,907.9 L1034.1,906.4 L1035.5,904.9 L1036.9,903.3 L1038.3,901.8 L1039.7,900.2 L1041.0,898.6 L1042.4,897.1 L1043.8,895.5 L1045.1,893.9 L1046.5,892.4 L1047.8,890.8 L1049.1,889.2 L1050.5,887.6 L1051.8,886.0 L1053.1,884.4 L1054.5,882.8 L1055.8,881.2 L1057.1,879.6 L1058.4,877.9 L1059.7,876.3 L1061.0,874.7 L1062.3,873.1 L1063.6,871.4 L1064.8,869.8 L1066.1,868.2 L1067.4,866.5 L1068.7,864.9 L1069.9,863.2 L1071.2,861.6 L1072.4,859.9 L1073.7,858.2 L1074.9,856.6 L1076.2,854.9 L1077.4,853.2 L1078.7,851.6 L1079.9,849.9 L1081.1,848.2 L1082.3,846.5 L1083.6,844.8 L1084.8,843.1 L1086.0,841.4 L1087.2,839.8 L1088.4,838.1 L1089.6,836.4 L1090.8,834.6 L1092.0,832.9 L1093.2,831.2 L1094.4,829.5 L1095.5,827.8 L1096.7,826.1 L1097.9,824.4 L1099.1,822.6 L1100.2,820.9 L1101.4,819.2 L1102.6,817.4 L1103.7,815.7 L1104.9,814.0 L1106.0,812.2 L1107.2,810.5 L1108.3,808.8 L1109.4,807.0 L1110.6,805.3 L1111.7,803.5 L1112.8,801.8 L1114.0,800.0 L1115.1,798.3 L1116.2,796.5 L1117.3,794.7 L1118.5,793.0 L1119.6,791.2 L1120.7,789.4 L1121.8,787.7 L1122.9,785.9 L1124.0,784.1 L1125.1,782.4 L1126.2,780.6 L1127.3,778.8 L1128.4,777.0 L1129.5,775.3 L1130.6,773.5 L1131.6,771.7 L1132.7,769.9 L1133.8,768.1 L1134.9,766.3 L1135.9,764.5 L1137.0,762.7 L1138.1,760.9 L1139.1,759.2 L1140.2,757.4 L1141.2,755.6 L1142.3,753.8 L1143.3,752.0 L1144.4,750.1 L1145.4,748.3 L1146.5,746.5 L1147.5,744.7 L1148.6,742.9 L1149.6,741.1 L1150.6,739.3 L1151.7,737.5 L1152.7,735.7 L1153.7,733.8 L1154.7,732.0 L1155.7,730.2 L1156.8,728.4 L1157.8,726.6 L1158.8,724.7 L1159.8,722.9 L1160.8,721.1 L1161.8,719.2 L1162.8,717.4 L1163.8,715.6 L1164.8,713.7 L1165.8,711.9 L1166.7,710.1 L1167.7,708.2 L1168.7,706.4 L1169.7,704.6 L1170.7,702.7 L1171.6,700.9 L1172.6,699.0 L1173.6,697.2 L1174.6,695.3 L1175.5,693.5 L1176.5,691.6 L1177.4,689.8 L1178.4,687.9 L1179.3,686.1 L1180.3,684.2 L1181.2,682.4 L1182.2,680.5 L1183.1,678.7 L1184.1,676.8 L1185.0,674.9 L1185.9,673.1 L1186.9,671.2 L1187.8,669.4 L1188.7,667.5 L1189.6,665.6 L1190.6,663.7 L1191.5,661.9 L1192.4,660.0 L1193.3,658.1 L1194.2,656.3 L1195.1,654.4 L1196.0,652.5 L1196.9,650.6 L1197.8,648.7 L1198.6,646.9 L1199.5,645.0 L1200.4,643.1 L1201.3,641.2 L1202.1,639.3 L1203.0,637.4 L1203.9,635.5 L1204.7,633.6 L1205.6,631.7 L1206.4,629.8 L1207.3,627.9 L1208.1,626.0 L1209.0,624.1 L1209.8,622.2 L1210.6,620.3 L1211.5,618.4 L1212.3,616.5 L1213.1,614.6 L1213.9,612.6 L1214.7,610.7 L1215.5,608.8 L1216.3,606.9 L1217.1,605.0 L1217.9,603.0 L1218.7,601.1 L1219.5,599.2 L1220.3,597.2 L1221.0,595.3 L1221.8,593.4 L1222.6,591.4 L1223.3,589.5 L1224.1,587.5 L1224.8,585.6 L1225.6,583.7 L1226.3,581.7 L1227.1,579.8 L1227.8,577.8" stroke="#2274d8" /><path d="M267.6,1281.5 L269.3,1281.1 L270.9,1280.8 L272.6,1280.4 L274.2,1280.0 L275.9,1279.6 L277.6,1279.3 L279.2,1278.9 L280.9,1278.5 L282.5,1278.1 L284.2,1277.7 L285.8,1277.3 L287.5,1276.9 L289.2,1276.6 L290.8,1276.2 L292.5,1275.8 L294.1,1275.4 L295.8,1275.0 L297.4,1274.6 L299.1,1274.2 L300.8,1273.8 L302.4,1273.3 L304.1,1272.9 L305.7,1272.5 L307.4,1272.1 L309.0,1271.7 L310.7,1271.3 L312.3,1270.9 L314.0,1270.4 L315.6,1270.0 L317.3,1269.6 L319.0,1269.2 L320.6,1268.8 L322.3,1268.3 L323.9,1267.9 L325.6,1267.5 L327.2,1267.0 L328.9,1266.6 L330.5,1266.1 L332.2,1265.7 L333.8,1265.3 L335.5,1264.8 L337.1,1264.4 L338.8,1263.9 L340.4,1263.5 L342.1,1263.0 L343.7,1262.6 L345.4,1262.1 L347.0,1261.7 L348.7,1261.2 L350.3,1260.8 L352.0,1260.3 L353.6,1259.8 L355.3,1259.4 L356.9,1258.9 L358.6,1258.4 L360.2,1258.0 L361.9,1257.5 L363.5,1257.0 L365.2,1256.5 L366.8,1256.1 L368.5,1255.6 L370.1,1255.1 L371.7,1254.6 L373.4,1254.1 L375.0,1253.6 L376.7,1253.1 L378.3,1252.7 L380.0,1252.2 L381.6,1251.7 L383.2,1251.2 L384.9,1250.7 L386.5,1250.2 L388.2,1249.7 L389.8,1249.2 L391.5,1248.7 L393.1,1248.1 L394.7,1247.6 L396.4,1247.1 L398.0,1246.6 L399.7,1246.1 L401.3,1245.6 L402.9,1245.1 L404.6,1244.5 L406.2,1244.0 L407.8,1243.5 L409.5,1243.0 L411.1,1242.4 L412.7,1241.9 L414.4,1241.4 L416.0,1240.8 L417.7,1240.3 L419.3,1239.8 L420.9,1239.2 L422.6,1238.7 L424.2,1238.2 L425.8,1237.6 L427.4,1237.1 L429.1,1236.5 L430.7,1236.0 L432.3,1235.4 L434.0,1234.9 L435.6,1234.3 L437.2,1233.7 L438.9,1233.2 L440.5,1232.6 L442.1,1232.1 L443.7,1231.5 L445.4,1230.9 L447.0,1230.4 L448.6,1229.8 L450.2,1229.2 L451.9,1228.6 L453.5,1228.1 L455.1,1227.5 L456.7,1226.9 L458.3,1226.3 L460.0,1225.7 L461.6,1225.2 L463.2,1224.6 L464.8,1224.0 L466.4,1223.4 L468.1,1222.8 L469.7,1222.2 L471.3,1221.6 L472.9,1221.0 L474.5,1220.4 L476.1,1219.8 L477.8,1219.2 L479.4,1218.6 L481.0,1218.0 L482.6,1217.4 L484.2,1216.8 L485.8,1216.2 L487.4,1215.5 L489.0,1214.9 L490.7,1214.3 L492.3,1213.7 L493.9,1213.1 L495.5,1212.4 L497.1,1211.8 L498.7,1211.2 L500.3,1210.6 L501.9,1209.9 L503.5,1209.3 L505.1,1208.7 L506.7,1208.0 L508.3,1207.4 L509.9,1206.7 L511.5,1206.1 L513.1,1205.5 L514.7,1204.8 L516.3,1204.2 L517.9,1203.5 L519.5,1202.9 L521.1,1202.2 L522.7,1201.6 L524.3,1200.9 L525.9,1200.2 L527.5,1199.6 L529.1,1198.9 L530.7,1198.2 L532.3,1197.6 L533.9,1196.9 L535.5,1196.2 L537.0,1195.6 L538.6,1194.9 L540.2,1194.2 L541.8,1193.5 L543.4,1192.9 L545.0,1192.2 L546.6,1191.5 L548.1,1190.8 L549.7,1190.1 L551.3,1189.4 L552.9,1188.7 L554.5,1188.0 L556.1,1187.4 L557.6,1186.7 L559.2,1186.0 L560.8,1185.3 L562.4,1184.6 L563.9,1183.9 L565.5,1183.1 L567.1,1182.4 L568.7,1181.7 L570.2,1181.0 L571.8,1180.3 L573.4,1179.6 L575.0,1178.9 L576.5,1178.2 L578.1,1177.4 L579.7,1176.7 L581.2,1176.0 L582.8,1175.3 L584.4,1174.5 L585.9,1173.8 L587.5,1173.1 L589.0,1172.3 L590.6,1171.6 L592.2,1170.9 L593.7,1170.1 L595.3,1169.4 L596.8,1168.6 L598.4,1167.9 L600.0,1167.1 L601.5,1166.4 L603.1,1165.6 L604.6,1164.9 L606.2,1164.1 L607.7,1163.4 L609.3,1162.6 L610.8,1161.9 L612.4,1161.1 L613.9,1160.3 L615.5,1159.6 L617.0,1158.8 L618.6,1158.0 L620.1,1157.3 L621.6,1156.5 L623.2,1155.7 L624.7,1154.9 L626.3,1154.2 L627.8,1153.4 L629.3,1152.6 L630.9,1151.8 L632.4,1151.0 L633.9,1150.2 L635.5,1149.4 L637.0,1148.7 L638.5,1147.9 L640.1,1147.1 L641.6,1146.3 L643.1,1145.5 L644.7,1144.7 L646.2,1143.9 L647.7,1143.1 L649.2,1142.3 L650.8,1141.4 L652.3,1140.6 L653.8,1139.8 L655.3,1139.0 L656.8,1138.2 L658.4,1137.4 L659.9,1136.6 L661.4,1135.7 L662.9,1134.9 L664.4,1134.1 L665.9,1133.3 L667.4,1132.4 L669.0,1131.6 L670.5,1130.8 L672.0,1129.9 L673.5,1129.1 L675.0,1128.3 L676.5,1127.4 L678.0,1126.6 L679.5,1125.7 L681.0,1124.9 L682.5,1124.0 L684.0,1123.2 L685.5,1122.3 L687.0,1121.5 L688.5,1120.6 L690.0,1119.8 L691.5,1118.9 L693.0,1118.0 L694.5,1117.2 L696.0,1116.3 L697.4,1115.4 L698.9,1114.6 L700.4,1113.7 L701.9,1112.8 L703.4,1112.0 L704.9,1111.1 L706.3,1110.2 L707.8,1109.3 L709.3,1108.4 L710.8,1107.6 L712.3,1106.7 L713.7,1105.8 L715.2,1104.9 L716.7,1104.0 L718.2,1103.1 L719.6,1102.2 L721.1,1101.3 L722.6,1100.4 L724.0,1099.5 L725.5,1098.6 L727.0,1097.7 L728.4,1096.8 L729.9,1095.9 L731.3,1095.0 L732.8,1094.1 L734.3,1093.2 L735.7,1092.2 L737.2,1091.3 L738.6,1090.4 L740.1,1089.5 L741.5,1088.6 L743.0,1087.6 L744.4,1086.7 L745.9,1085.8 L747.3,1084.8 L748.8,1083.9 L750.2,1083.0 L751.7,1082.0 L753.1,1081.1 L754.5,1080.2 L756.0,1079.2 L757.4,1078.3 L758.8,1077.3 L760.3,1076.4 L761.7,1075.4 L763.1,1074.5 L764.6,1073.5 L766.0,1072.6 L767.4,1071.6 L768.9,1070.6 L770.3,1069.7 L771.7,1068.7 L773.1,1067.8 L774.5,1066.8 L776.0,1065.8 L777.4,1064.8 L778.8,1063.9 L780.2,1062.9 L781.6,1061.9 L783.0,1060.9 L784.4,1060.0 L785.9,1059.0 L787.3,1058.0 L788.7,1057.0 L790.1,1056.0 L791.5,1055.0 L792.9,1054.0 L794.3,1053.0 L795.7,1052.1 L797.1,1051.1 L798.5,1050.1 L799.9,1049.1 L801.3,1048.0 L802.6,1047.0 L804.0,1046.0 L805.4,1045.0 L806.8,1044.0 L808.2,1043.0 L809.6,1042.0 L811.0,1041.0 L812.3,1040.0 L813.7,1038.9 L815.1,1037.9 L816.5,1036.9 L817.9,1035.9 L819.2,1034.8 L820.6,1033.8 L822.0,1032.8 L823.3,1031.7 L824.7,1030.7 L826.1,1029.7 L827.4,1028.6 L828.8,1027.6 L830.2,1026.5 L831.5,1025.5 L832.9,1024.4 L834.2,1023.4 L835.6,1022.3 L836.9,1021.3 L838.3,1020.2 L839.6,1019.2 L841.0,1018.1 L842.3,1017.1 L843.7,1016.0 L845.0,1014.9 L846.4,1013.9 L847.7,1012.8 L849.0,1011.7 L850.4,1010.7 L851.7,1009.6 L853.0,1008.5 L854.4,1007.4 L855.7,1006.4 L857.0,1005.3 L858.4,1004.2 L859.7,1003.1 L861.0,1002.0 L862.3,1000.9 L863.7,999.8 L865.0,998.7 L866.3,997.6 L867.6,996.6 L868.9,995.5 L870.2,994.4 L871.5,993.2 L872.9,992.1 L874.2,991.0 L875.5,989.9 L876.8,988.8 L878.1,987.7 L879.4,986.6 L880.7,985.5 L882.0,984.4 L883.3,983.2 L884.6,982.1 L885.8,981.0 L887.1,979.9 L888.4,978.7 L889.7,977.6 L891.0,976.5 L892.3,975.3 L893.6,974.2 L894.8,973.1 L896.1,971.9 L897.4,970.8 L898.7,969.7 L899.9,968.5 L901.2,967.4 L902.5,966.2 L903.7,965.1 L905.0,963.9 L906.3,962.8 L907.5,961.6 L908.8,960.4 L910.0,959.3 L911.3,958.1 L912.6,957.0 L913.8,955.8 L915.1,954.6 L916.3,953.5 L917.6,952.3 L918.8,951.1 L920.0,949.9 L921.3,948.8 L922.5,947.6 L923.8,946.4 L925.0,945.2 L926.2,944.0 L927.5,942.8 L928.7,941.7 L929.9,940.5 L931.1,939.3 L932.4,938.1 L933.6,936.9 L934.8,935.7 L936.0,934.5 L937.2,933.3 L938.5,932.1 L939.7,930.9 L940.9,929.7 L942.1,928.4 L943.3,927.2 L944.5,926.0 L945.7,924.8 L946.9,923.6 L948.1,922.4 L949.3,921.1 L950.5,919.9 L951.7,918.7 L952.9,917.5 L954.1,916.2 L955.3,915.0 L956.4,913.8 L957.6,912.5 L958.8,911.3 L960.0,910.1 L961.2,908.8 L962.3,907.6 L963.5,906.3 L964.7,905.1 L965.9,903.8 L967.0,902.6 L968.2,901.3 L969.4,900.1 L970.5,898.8 L971.7,897.6 L972.8,896.3 L974.0,895.0 L975.1,893.8 L976.3,892.5 L977.4,891.2 L978.6,890.0 L979.7,888.7 L980.9,887.4 L982.0,886.2 L983.2,884.9 L984.3,883.6 L985.4,882.3 L986.6,881.0 L987.7,879.8 L988.8,878.5 L990.0,877.2 L991.1,875.9 L992.2,874.6 L993.3,873.3 L994.4,872.0 L995.6,870.7 L996.7,869.4 L997.8,868.1 L998.9,866.8 L1000.0,865.5 L1001.1,864.2 L1002.2,862.9 L1003.3,861.6 L1004.4,860.2 L1005.5,858.9 L1006.6,857.6 L1007.7,856.3 L1008.8,855.0 L1009.9,853.6 L1011.0,852.3 L1012.0,851.0 L1013.1,849.7 L1014.2,848.3 L1015.3,847.0 L1016.4,845.7 L1017.4,844.3 L1018.5,843.0 L1019.6,841.6 L1020.6,840.3 L1021.7,838.9 L1022.8,837.6 L1023.8,836.2 L1024.9,834.9 L1025.9,833.5 L1027.0,832.2 L1028.0,830.8 L1029.1,829.5 L1030.1,828.1 L1031.2,826.7 L1032.2,825.4 L1033.3,824.0 L1034.3,822.6 L1035.3,821.3 L1036.4,819.9 L1037.4,818.5 L1038.4,817.2 L1039.4,815.8 L1040.5,814.4 L1041.5,813.0 L1042.5,811.6 L1043.5,810.2 L1044.5,808.9 L1045.6,807.5 L1046.6,806.1 L1047.6,804.7 L1048.6,803.3 L1049.6,801.9 L1050.6,800.5 L1051.6,799.1 L1052.6,797.7 L1053.6,796.3 L1054.6,794.9 L1055.5,793.5 L1056.5,792.0 L1057.5,790.6 L1058.5,789.2 L1059.5,787.8 L1060.5,786.4 L1061.4,785.0 L1062.4,783.5 L1063.4,782.1 L1064.3,780.7 L1065.3,779.2 L1066.3,777.8 L1067.2,776.4 L1068.2,774.9 L1069.1,773.5 L1070.1,772.1 L1071.0,770.6 L1072.0,769.2 L1072.9,767.7 L1073.9,766.3 L1074.8,764.8 L1075.8,763.4 L1076.7,761.9 L1077.6,760.5 L1078.6,759.0 L1079.5,757.6 L1080.4,756.1 L1081.3,754.6 L1082.3,753.2 L1083.2,751.7 L1084.1,750.3 L1085.0,748.8 L1085.9,747.3 L1086.8,745.8 L1087.7,744.4 L1088.6,742.9 L1089.5,741.4 L1090.4,739.9 L1091.3,738.4 L1092.2,736.9 L1093.1,735.5 L1094.0,734.0 L1094.9,732.5 L1095.8,731.0 L1096.7,729.5 L1097.6,728.0 L1098.4,726.5 L1099.3,725.0" stroke="#3aa86b" /><path d="M267.6,1281.5 L269.1,1281.3 L270.7,1281.0 L272.2,1280.7 L273.7,1280.4 L275.3,1280.1 L276.8,1279.8 L278.3,1279.5 L279.8,1279.2 L281.4,1278.9 L282.9,1278.6 L284.4,1278.3 L285.9,1278.0 L287.5,1277.7 L289.0,1277.4 L290.5,1277.1 L292.0,1276.8 L293.6,1276.5 L295.1,1276.2 L296.6,1275.9 L298.1,1275.6 L299.7,1275.2 L301.2,1274.9 L302.7,1274.6 L304.2,1274.3 L305.8,1274.0 L307.3,1273.6 L308.8,1273.3 L310.3,1273.0 L311.8,1272.7 L313.4,1272.3 L314.9,1272.0 L316.4,1271.7 L317.9,1271.3 L319.4,1271.0 L321.0,1270.7 L322.5,1270.3 L324.0,1270.0 L325.5,1269.7 L327.0,1269.3 L328.6,1269.0 L330.1,1268.6 L331.6,1268.3 L333.1,1267.9 L334.6,1267.6 L336.2,1267.2 L337.7,1266.9 L339.2,1266.5 L340.7,1266.2 L342.2,1265.8 L343.7,1265.4 L345.2,1265.1 L346.8,1264.7 L348.3,1264.4 L349.8,1264.0 L351.3,1263.6 L352.8,1263.3 L354.3,1262.9 L355.8,1262.5 L357.4,1262.1 L358.9,1261.8 L360.4,1261.4 L361.9,1261.0 L363.4,1260.6 L364.9,1260.3 L366.4,1259.9 L367.9,1259.5 L369.5,1259.1 L371.0,1258.7 L372.5,1258.3 L374.0,1258.0 L375.5,1257.6 L377.0,1257.2 L378.5,1256.8 L380.0,1256.4 L381.5,1256.0 L383.0,1255.6 L384.5,1255.2 L386.1,1254.8 L387.6,1254.4 L389.1,1254.0 L390.6,1253.6 L392.1,1253.2 L393.6,1252.8 L395.1,1252.4 L396.6,1252.0 L398.1,1251.5 L399.6,1251.1 L401.1,1250.7 L402.6,1250.3 L404.1,1249.9 L405.6,1249.5 L407.1,1249.1 L408.6,1248.6 L410.1,1248.2 L411.6,1247.8 L413.1,1247.4 L414.6,1246.9 L416.1,1246.5 L417.6,1246.1 L419.1,1245.6 L420.6,1245.2 L422.1,1244.8 L423.6,1244.3 L425.1,1243.9 L426.6,1243.5 L428.1,1243.0 L429.6,1242.6 L431.1,1242.2 L432.6,1241.7 L434.1,1241.3 L435.6,1240.8 L437.1,1240.4 L438.6,1239.9 L440.1,1239.5 L441.6,1239.0 L443.1,1238.6 L444.6,1238.1 L446.1,1237.7 L447.6,1237.2 L449.1,1236.8 L450.6,1236.3 L452.1,1235.8 L453.6,1235.4 L455.1,1234.9 L456.6,1234.4 L458.0,1234.0 L459.5,1233.5 L461.0,1233.0 L462.5,1232.6 L464.0,1232.1 L465.5,1231.6 L467.0,1231.2 L468.5,1230.7 L470.0,1230.2 L471.5,1229.7 L472.9,1229.3 L474.4,1228.8 L475.9,1228.3 L477.4,1227.8 L478.9,1227.3 L480.4,1226.8 L481.9,1226.4 L483.4,1225.9 L484.8,1225.4 L486.3,1224.9 L487.8,1224.4 L489.3,1223.9 L490.8,1223.4 L492.3,1222.9 L493.8,1222.4 L495.2,1221.9 L496.7,1221.4 L498.2,1220.9 L499.7,1220.4 L501.2,1219.9 L502.6,1219.4 L504.1,1218.9 L505.6,1218.4 L507.1,1217.9 L508.6,1217.4 L510.1,1216.9 L511.5,1216.4 L513.0,1215.9 L514.5,1215.3 L516.0,1214.8 L517.4,1214.3 L518.9,1213.8 L520.4,1213.3 L521.9,1212.8 L523.4,1212.2 L524.8,1211.7 L526.3,1211.2 L527.8,1210.7 L529.3,1210.1 L530.7,1209.6 L532.2,1209.1 L533.7,1208.6 L535.1,1208.0 L536.6,1207.5 L538.1,1207.0 L539.6,1206.4 L541.0,1205.9 L542.5,1205.4 L544.0,1204.8 L545.5,1204.3 L546.9,1203.7 L548.4,1203.2 L549.9,1202.7 L551.3,1202.1 L552.8,1201.6 L554.3,1201.0 L555.7,1200.5 L557.2,1199.9 L558.7,1199.4 L560.1,1198.8 L561.6,1198.3 L563.1,1197.7 L564.5,1197.2 L566.0,1196.6 L567.5,1196.1 L568.9,1195.5 L570.4,1194.9 L571.9,1194.4 L573.3,1193.8 L574.8,1193.3 L576.2,1192.7 L577.7,1192.1 L579.2,1191.6 L580.6,1191.0 L582.1,1190.4 L583.6,1189.9 L585.0,1189.3 L586.5,1188.7 L587.9,1188.1 L589.4,1187.6 L590.9,1187.0 L592.3,1186.4 L593.8,1185.8 L595.2,1185.3 L596.7,1184.7 L598.1,1184.1 L599.6,1183.5 L601.1,1182.9 L602.5,1182.4 L604.0,1181.8 L605.4,1181.2 L606.9,1180.6 L608.3,1180.0 L609.8,1179.4 L611.2,1178.8 L612.7,1178.2 L614.1,1177.6 L615.6,1177.1 L617.0,1176.5 L618.5,1175.9 L619.9,1175.3 L621.4,1174.7 L622.8,1174.1 L624.3,1173.5 L625.7,1172.9 L627.2,1172.3 L628.6,1171.7 L630.1,1171.1 L631.5,1170.5 L633.0,1169.9 L634.4,1169.2 L635.9,1168.6 L637.3,1168.0 L638.8,1167.4 L640.2,1166.8 L641.6,1166.2 L643.1,1165.6 L644.5,1165.0 L646.0,1164.3 L647.4,1163.7 L648.9,1163.1 L650.3,1162.5 L651.7,1161.9 L653.2,1161.3 L654.6,1160.6 L656.1,1160.0 L657.5,1159.4 L658.9,1158.8 L660.4,1158.1 L661.8,1157.5 L663.2,1156.9 L664.7,1156.3 L666.1,1155.6 L667.6,1155.0 L669.0,1154.4 L670.4,1153.7 L671.9,1153.1 L673.3,1152.5 L674.7,1151.8 L676.2,1151.2 L677.6,1150.5 L679.0,1149.9 L680.5,1149.3 L681.9,1148.6 L683.3,1148.0 L684.7,1147.3 L686.2,1146.7 L687.6,1146.1 L689.0,1145.4 L690.5,1144.8 L691.9,1144.1 L693.3,1143.5 L694.8,1142.8 L696.2,1142.2 L697.6,1141.5 L699.0,1140.9 L700.5,1140.2 L701.9,1139.6 L703.3,1138.9 L704.7,1138.2 L706.2,1137.6 L707.6,1136.9 L709.0,1136.3 L710.4,1135.6 L711.8,1135.0 L713.3,1134.3 L714.7,1133.6 L716.1,1133.0 L717.5,1132.3 L718.9,1131.6 L720.4,1131.0 L721.8,1130.3 L723.2,1129.6 L724.6,1129.0 L726.0,1128.3 L727.5,1127.6 L728.9,1127.0 L730.3,1126.3 L731.7,1125.6 L733.1,1124.9 L734.5,1124.3 L735.9,1123.6 L737.4,1122.9 L738.8,1122.2 L740.2,1121.5 L741.6,1120.9 L743.0,1120.2 L744.4,1119.5 L745.8,1118.8 L747.2,1118.1 L748.6,1117.5 L750.1,1116.8 L751.5,1116.1 L752.9,1115.4 L754.3,1114.7 L755.7,1114.0 L757.1,1113.3 L758.5,1112.6 L759.9,1111.9 L761.3,1111.3 L762.7,1110.6 L764.1,1109.9 L765.5,1109.2 L766.9,1108.5 L768.3,1107.8 L769.7,1107.1 L771.1,1106.4 L772.5,1105.7 L773.9,1105.0 L775.3,1104.3 L776.7,1103.6 L778.1,1102.9 L779.5,1102.2 L780.9,1101.5 L782.3,1100.8 L783.7,1100.1 L785.1,1099.4 L786.5,1098.7 L787.9,1097.9 L789.3,1097.2 L790.7,1096.5 L792.1,1095.8 L793.5,1095.1 L794.9,1094.4 L796.3,1093.7 L797.7,1093.0 L799.0,1092.2 L800.4,1091.5 L801.8,1090.8 L803.2,1090.1 L804.6,1089.4 L806.0,1088.7 L807.4,1087.9 L808.8,1087.2 L810.2,1086.5 L811.5,1085.8 L812.9,1085.1 L814.3,1084.3 L815.7,1083.6 L817.1,1082.9 L818.5,1082.2 L819.9,1081.4 L821.2,1080.7 L822.6,1080.0 L824.0,1079.3 L825.4,1078.5 L826.8,1077.8 L828.1,1077.1 L829.5,1076.3 L830.9,1075.6 L832.3,1074.9 L833.7,1074.1 L835.0,1073.4 L836.4,1072.7 L837.8,1071.9 L839.2,1071.2 L840.5,1070.5 L841.9,1069.7 L843.3,1069.0 L844.7,1068.2 L846.0,1067.5 L847.4,1066.8 L848.8,1066.0 L850.2,1065.3 L851.5,1064.5 L852.9,1063.8 L854.3,1063.0 L855.6,1062.3 L857.0,1061.6 L858.4,1060.8 L859.7,1060.1 L861.1,1059.3 L862.5,1058.6 L863.8,1057.8 L865.2,1057.1 L866.6,1056.3 L867.9,1055.6 L869.3,1054.8 L870.7,1054.0 L872.0,1053.3 L873.4,1052.5 L874.7,1051.8 L876.1,1051.0 L877.5,1050.3 L878.8,1049.5 L880.2,1048.7 L881.5,1048.0 L882.9,1047.2 L884.2,1046.4 L885.6,1045.7 L886.9,1044.9 L888.3,1044.1 L889.6,1043.3 L891.0,1042.6 L892.3,1041.8 L893.7,1041.0 L895.0,1040.2 L896.4,1039.5 L897.7,1038.7 L899.0,1037.9 L900.4,1037.1 L901.7,1036.3 L903.1,1035.5 L904.4,1034.7 L905.7,1033.9 L907.1,1033.1 L908.4,1032.4 L909.7,1031.6 L911.1,1030.8 L912.4,1029.9 L913.7,1029.1 L915.0,1028.3 L916.4,1027.5 L917.7,1026.7 L919.0,1025.9 L920.3,1025.1 L921.6,1024.3 L922.9,1023.4 L924.3,1022.6 L925.6,1021.8 L926.9,1021.0 L928.2,1020.1 L929.5,1019.3 L930.8,1018.5 L932.1,1017.6 L933.4,1016.8 L934.7,1016.0 L936.0,1015.1 L937.3,1014.3 L938.6,1013.4 L939.9,1012.6 L941.2,1011.7 L942.5,1010.9 L943.7,1010.0 L945.0,1009.1 L946.3,1008.3 L947.6,1007.4 L948.9,1006.5 L950.1,1005.6 L951.4,1004.8 L952.7,1003.9 L954.0,1003.0 L955.2,1002.1 L956.5,1001.2 L957.8,1000.3 L959.0,999.4 L960.3,998.5 L961.5,997.6 L962.8,996.7 L964.0,995.8 L965.3,994.9 L966.5,994.0 L967.8,993.1 L969.0,992.2 L970.3,991.2 L971.5,990.3 L972.7,989.4 L974.0,988.4 L975.2,987.5 L976.4,986.6 L977.6,985.6 L978.9,984.7 L980.1,983.7 L981.3,982.7 L982.5,981.8 L983.7,980.8 L984.9,979.9 L986.1,978.9 L987.4,977.9 L988.6,976.9 L989.8,976.0 L991.0,975.0 L992.1,974.0 L993.3,973.0 L994.5,972.0 L995.7,971.0 L996.9,970.0 L998.1,969.0 L999.3,968.0 L1000.5,967.0 L1001.6,966.0 L1002.8,965.0 L1004.0,964.0 L1005.1,962.9 L1006.3,961.9 L1007.5,960.9 L1008.6,959.9 L1009.8,958.8 L1010.9,957.8 L1012.1,956.7 L1013.3,955.7 L1014.4,954.7 L1015.6,953.6 L1016.7,952.6 L1017.8,951.5 L1019.0,950.4 L1020.1,949.4 L1021.3,948.3 L1022.4,947.2 L1023.5,946.2 L1024.6,945.1 L1025.8,944.0 L1026.9,942.9 L1028.0,941.9 L1029.1,940.8 L1030.2,939.7 L1031.4,938.6 L1032.5,937.5 L1033.6,936.4 L1034.7,935.3 L1035.8,934.2 L1036.9,933.1 L1038.0,932.0 L1039.1,930.9 L1040.2,929.7 L1041.3,928.6 L1042.4,927.5 L1043.4,926.4 L1044.5,925.2 L1045.6,924.1 L1046.7,923.0 L1047.8,921.8 L1048.8,920.7 L1049.9,919.6 L1051.0,918.4 L1052.0,917.3 L1053.1,916.1 L1054.2,915.0 L1055.2,913.8 L1056.3,912.6 L1057.3,911.5 L1058.4,910.3 L1059.4,909.1 L1060.5,908.0 L1061.5,906.8 L1062.6,905.6 L1063.6,904.4 L1064.6,903.3 L1065.7,902.1 L1066.7,900.9 L1067.7,899.7 L1068.8,898.5 L1069.8,897.3 L1070.8,896.1 L1071.8,894.9 L1072.9,893.7 L1073.9,892.5 L1074.9,891.3 L1075.9,890.1 L1076.9,888.8 L1077.9,887.6 L1078.9,886.4 L1079.9,885.2 L1080.9,883.9 L1081.9,882.7 L1082.9,881.5 L1083.9,880.3 L1084.9,879.0 L1085.9,877.8 L1086.8,876.5 L1087.8,875.3 L1088.8,874.0 L1089.8,872.8 L1090.8,871.5" stroke="#b57be0" />
</g>
<g stroke="#000" stroke-width="8.5" stroke-linecap="butt">
<line x1="267.6" y1="1281.5" x2="267.6" y2="1306.5"/><line x1="346.1" y1="1281.5" x2="346.1" y2="1294.5"/><line x1="424.5" y1="1281.5" x2="424.5" y2="1306.5"/><line x1="503.0" y1="1281.5" x2="503.0" y2="1294.5"/><line x1="581.5" y1="1281.5" x2="581.5" y2="1306.5"/><line x1="660.0" y1="1281.5" x2="660.0" y2="1294.5"/><line x1="738.4" y1="1281.5" x2="738.4" y2="1306.5"/><line x1="816.9" y1="1281.5" x2="816.9" y2="1294.5"/><line x1="895.4" y1="1281.5" x2="895.4" y2="1306.5"/><line x1="973.8" y1="1281.5" x2="973.8" y2="1294.5"/><line x1="1052.3" y1="1281.5" x2="1052.3" y2="1306.5"/><line x1="1130.8" y1="1281.5" x2="1130.8" y2="1294.5"/><line x1="1209.2" y1="1281.5" x2="1209.2" y2="1306.5"/><line x1="1287.7" y1="1281.5" x2="1287.7" y2="1294.5"/><line x1="1366.2" y1="1281.5" x2="1366.2" y2="1306.5"/><line x1="1444.7" y1="1281.5" x2="1444.7" y2="1294.5"/><line x1="1523.1" y1="1281.5" x2="1523.1" y2="1306.5"/><line x1="1601.6" y1="1281.5" x2="1601.6" y2="1294.5"/><line x1="1680.1" y1="1281.5" x2="1680.1" y2="1306.5"/><line x1="1758.5" y1="1281.5" x2="1758.5" y2="1294.5"/><line x1="1837.0" y1="1281.5" x2="1837.0" y2="1306.5"/><line x1="267.6" y1="1281.5" x2="242.6" y2="1281.5"/><line x1="267.6" y1="1141.3" x2="255.6" y2="1141.3"/><line x1="267.6" y1="1001.1" x2="242.6" y2="1001.1"/><line x1="267.6" y1="860.9" x2="255.6" y2="860.9"/><line x1="267.6" y1="720.7" x2="242.6" y2="720.7"/><line x1="267.6" y1="580.4" x2="255.6" y2="580.4"/><line x1="267.6" y1="440.2" x2="242.6" y2="440.2"/><line x1="267.6" y1="300.0" x2="255.6" y2="300.0"/><line x1="267.6" y1="159.8" x2="242.6" y2="159.8"/><line x1="267.6" y1="19.6" x2="255.6" y2="19.6"/>
</g>
<rect x="267.6" y="19.6" width="1569.4" height="1261.9" fill="none" stroke="#000" stroke-width="8.5"/>
<g font-size="77" text-anchor="middle"><text x="267.6" y="1383">0</text><text x="424.5" y="1383">10</text><text x="581.5" y="1383">20</text><text x="738.4" y="1383">30</text><text x="895.4" y="1383">40</text><text x="1052.3" y="1383">50</text><text x="1209.2" y="1383">60</text><text x="1366.2" y="1383">70</text><text x="1523.1" y="1383">80</text><text x="1680.1" y="1383">90</text><text x="1837.0" y="1383">100</text></g>
<g font-size="77" text-anchor="end"><text x="224.5" y="1303.5">0</text><text x="224.5" y="1023.1">100</text><text x="224.5" y="742.7">200</text><text x="224.5" y="462.2">300</text><text x="224.5" y="181.8">400</text></g>
<text x="1052.5" y="1483" font-size="84" text-anchor="middle">Strain(%)</text>
<text transform="translate(76,649) rotate(-90)" font-size="84" text-anchor="middle">Stress(kPa)</text>
<g font-size="60"><line x1="331" y1="107.0" x2="477" y2="107.0" stroke="#4d4d4d" stroke-width="7.5" stroke-linecap="round"/><text transform="translate(497 129.5) scale(0.96 1)" font-size="62">P-NIPAM<tspan dy="18">10</tspan><tspan dy="-18">TPY</tspan><tspan dy="18">0.01</tspan></text><line x1="331" y1="206.4" x2="477" y2="206.4" stroke="#e0404f" stroke-width="7.5" stroke-linecap="round"/><text transform="translate(497 228.9) scale(0.96 1)" font-size="62">P-NIPAM<tspan dy="18">10</tspan><tspan dy="-18">TPY</tspan><tspan dy="18">0.05</tspan></text><line x1="331" y1="305.8" x2="477" y2="305.8" stroke="#2274d8" stroke-width="7.5" stroke-linecap="round"/><text transform="translate(497 328.3) scale(0.96 1)" font-size="62">P-NIPAM<tspan dy="18">10</tspan><tspan dy="-18">TPY</tspan><tspan dy="18">0.9</tspan></text><line x1="331" y1="405.2" x2="477" y2="405.2" stroke="#3aa86b" stroke-width="7.5" stroke-linecap="round"/><text transform="translate(497 427.7) scale(0.96 1)" font-size="62">P-NIPAM<tspan dy="18">20</tspan><tspan dy="-18">TPY</tspan><tspan dy="18">0.05</tspan></text><line x1="331" y1="504.6" x2="477" y2="504.6" stroke="#b57be0" stroke-width="7.5" stroke-linecap="round"/><text transform="translate(497 527.1) scale(0.96 1)" font-size="62">P-NIPAM<tspan dy="18">30</tspan><tspan dy="-18">TPY</tspan><tspan dy="18">0.05</tspan></text></g>
</svg>
</body></html>
